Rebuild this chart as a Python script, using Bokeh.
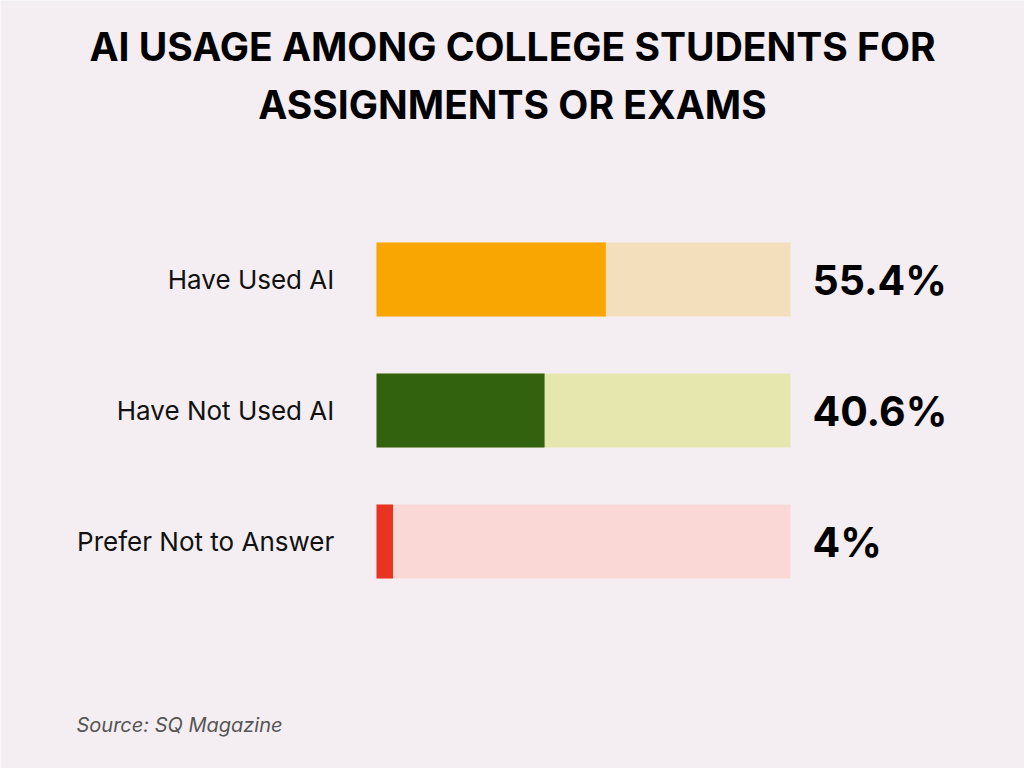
from bokeh.plotting import figure
from bokeh.models import Range1d, Label, ColumnDataSource
from bokeh.core.properties import value
from bokeh.embed import file_html
from bokeh.resources import INLINE

# ---- data ----
categories = ["Have Used AI", "Have Not Used AI", "Prefer Not to Answer"]
percentages = [55.4, 40.6, 4.0]
value_labels = ["55.4%", "40.6%", "4%"]
bar_colors = ["#F9A603", "#33620F", "#E93323"]
track_colors = ["#F3DFBB", "#E6E7AE", "#FAD8D6"]
title_lines = ["AI USAGE AMONG COLLEGE STUDENTS FOR", "ASSIGNMENTS OR EXAMS"]
source_text = "Source: SQ Magazine"

W, H = 1024, 768
BG = "#f4eef2"

n = len(categories)
ys = [n - i for i in range(n)]  # top to bottom

src = ColumnDataSource(dict(
    cat=categories, y=ys, pct=percentages, full=[100] * n,
    lab=value_labels, col=bar_colors, track=track_colors,
    lx=[-10.2] * n, vx=[105.3] * n,
))

# pixel mapping: 100% = 414 px, bar starts at 376 px
px_per = 4.14
x0 = -376 / px_per
x1 = (W - 376) / px_per
unit = 131.0
yb = ys[0] - (H - 279) / unit
yt = yb + H / unit

p = figure(width=W, height=H, output_backend="svg", toolbar_location=None,
           x_range=Range1d(x0, x1), y_range=Range1d(yb, yt),
           min_border=0, outline_line_color=None,
           background_fill_color=BG, border_fill_color=BG)
p.axis.visible = False
p.grid.visible = False

bh = 74 / unit
p.hbar(y="y", left=0, right="full", height=bh, fill_color="track",
       line_color=None, source=src)
p.hbar(y="y", left=0, right="pct", height=bh, fill_color="col",
       line_color=None, source=src)

p.text(x="lx", y="y", text="cat", source=src, text_align="right",
       text_baseline="middle", text_font=value("Inter"),
       text_font_size="26px", text_color="#111111")
p.text(x="vx", y="y", text="lab", source=src, text_align="left",
       text_baseline="middle", text_font=value("Inter"),
       text_font_style="bold", text_font_size="41px", text_color="#000000")

for t, yy in zip(title_lines, [H - 46, H - 104]):
    p.add_layout(Label(x=W / 2, y=yy, x_units="screen", y_units="screen",
                       text=t, text_align="center", text_baseline="middle",
                       text_font="Inter", text_font_style="bold",
                       text_font_size="39px", text_color="#000000"))

p.add_layout(Label(x=76, y=44, x_units="screen", y_units="screen",
                   text=source_text, text_align="left", text_baseline="middle",
                   text_font="Inter", text_font_style="italic",
                   text_font_size="20px", text_color="#555555"))

open("out.html", "w").write(file_html(p, INLINE))
